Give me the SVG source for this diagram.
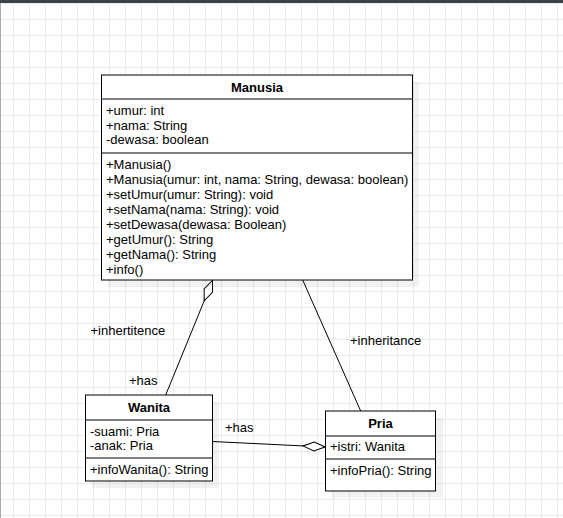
<svg xmlns="http://www.w3.org/2000/svg" width="563" height="518" viewBox="0 0 563 518">
<defs>
<pattern id="grid" patternUnits="userSpaceOnUse" x="13" y="3" width="16" height="16">
<path d="M0 0.5H16M0.5 0V16" stroke="#ebebeb" stroke-width="1" fill="none"/>
</pattern>
<marker id="diamond" markerUnits="userSpaceOnUse" markerWidth="24" markerHeight="12" refX="0" refY="0" orient="auto" overflow="visible">
<path d="M0,0 L11,-4.5 L22,0 L11,4.5 Z" fill="#fff" stroke="#000" stroke-width="1"/>
</marker>
<style>
text{font-family:"Liberation Sans",Arial,Helvetica,sans-serif;font-size:13px;fill:#000}
.title{font-weight:bold;text-anchor:middle}
.box{fill:#fff;stroke:#000;stroke-width:1}
.sep{stroke:#000;stroke-width:1}
.shadow{fill:#000;fill-opacity:0.05}
.conn{stroke:#000;stroke-width:1;fill:none}
</style>
</defs>
<rect x="0" y="0" width="563" height="518" fill="#fff"/>
<rect x="0" y="0" width="563" height="518" fill="url(#grid)"/>
<rect x="0" y="0" width="563" height="3" fill="#3b4346"/>
<rect x="0" y="3" width="1" height="515" fill="#a9adb0"/>

<g id="connectors">
<path class="conn" d="M212.5,280.5 L165.7,395" marker-start="url(#diamond)"/>
<path class="conn" d="M302.7,280 L360.7,411"/>
<path class="conn" d="M325,447 L212.5,441.5" marker-start="url(#diamond)"/>
<text x="90.5" y="334.5">+inhertitence</text>
<text x="129" y="385.2">+has</text>
<text x="350" y="345.2">+inheritance</text>
<text x="225" y="432.2">+has</text>
</g>

<g id="Manusia">
<rect class="shadow" x="108" y="82" width="311" height="205"/>
<rect class="box" x="101.5" y="75" width="311" height="205"/>
<line class="sep" x1="101.5" y1="99" x2="412.5" y2="99"/>
<line class="sep" x1="101.5" y1="153" x2="412.5" y2="153"/>
<text class="title" x="257" y="91.8">Manusia</text>
<text x="106" y="115.2">+umur: int</text>
<text x="106" y="129.7">+nama: String</text>
<text x="106" y="144.2">-dewasa: boolean</text>
<text x="106" y="168.8">+Manusia()</text>
<text x="106" y="183.8">+Manusia(umur: int, nama: String, dewasa: boolean)</text>
<text x="106" y="198.8">+setUmur(umur: String): void</text>
<text x="106" y="213.8">+setNama(nama: String): void</text>
<text x="106" y="228.8">+setDewasa(dewasa: Boolean)</text>
<text x="106" y="243.8">+getUmur(): String</text>
<text x="106" y="258.8">+getNama(): String</text>
<text x="106" y="273.8">+info()</text>
</g>

<g id="Wanita">
<rect class="shadow" x="92" y="402" width="127" height="86"/>
<rect class="box" x="85.5" y="395" width="127" height="86"/>
<line class="sep" x1="85.5" y1="420" x2="212.5" y2="420"/>
<line class="sep" x1="85.5" y1="458" x2="212.5" y2="458"/>
<text class="title" x="149" y="411.8">Wanita</text>
<text x="90" y="435.5">-suami: Pria</text>
<text x="90" y="449.8">-anak: Pria</text>
<text x="90" y="473.5">+infoWanita(): String</text>
</g>

<g id="Pria">
<rect class="shadow" x="332" y="418" width="111" height="80"/>
<rect class="box" x="325.5" y="411" width="110" height="80"/>
<line class="sep" x1="325.5" y1="436" x2="435.5" y2="436"/>
<line class="sep" x1="325.5" y1="459" x2="435.5" y2="459"/>
<text class="title" x="380.5" y="427.8">Pria</text>
<text x="330" y="451.2">+istri: Wanita</text>
<text x="330" y="474.5">+infoPria(): String</text>
</g>
</svg>
